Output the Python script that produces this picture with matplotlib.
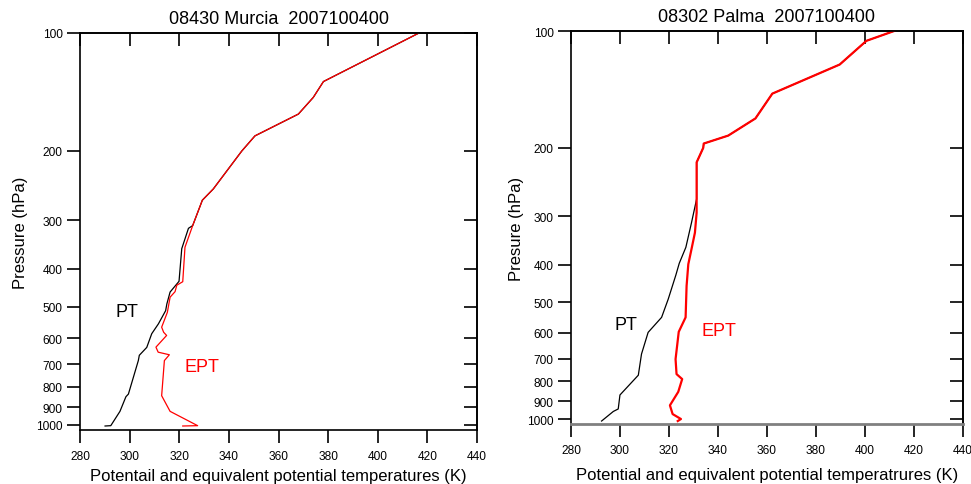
import numpy as np
import matplotlib
matplotlib.use('Agg')
import matplotlib.pyplot as plt

plt.rcParams['font.family'] = ['Liberation Sans', 'DejaVu Sans']

# Murcia 08430 (pressure hPa, temperature K)
murcia_ept_p = [100, 133, 146, 161, 183, 200, 250, 267, 310, 352, 431, 440, 457, 472,
                516, 563, 580, 591, 633, 652, 662, 685, 842, 923, 1004, 1006]
murcia_ept_t = [416.6, 378.1, 374.0, 368.0, 350.5, 345.2, 333.7, 329.3, 325.4, 322.3, 321.4,
                319.0, 318.3, 316.3, 315.2, 312.9, 313.7, 314.9, 310.6, 311.5, 316.0, 314.0,
                312.9, 316.3, 327.4, 321.4]
murcia_pt_p = [100, 133, 146, 161, 183, 200, 250, 267, 310, 315, 355, 430, 458, 491,
               511, 552, 585, 634, 664, 685, 834, 847, 923, 1004, 1006]
murcia_pt_t = [416.6, 378.1, 374.0, 368.0, 350.5, 345.2, 333.7, 329.3, 325.4, 323.7, 321.0,
               319.9, 316.3, 315.0, 314.5, 311.6, 308.9, 306.9, 303.9, 303.5, 299.5, 298.5,
               296.1, 292.4, 290.1]

# Palma 08302
palma_ept_p = [100, 106, 122, 145, 168, 186, 195, 200, 218, 294, 331, 365, 399, 454,
               547, 596, 701, 766, 789, 851, 922, 971, 1000, 1012]
palma_ept_t = [411.9, 400.6, 389.7, 362.2, 355.3, 344.2, 334.2, 334.0, 331.3, 331.3, 330.6,
               329.2, 327.9, 327.2, 326.8, 324.0, 322.7, 323.1, 325.4, 323.8, 320.4, 321.5,
               324.9, 323.6]
palma_pt_p = [100, 106, 122, 145, 168, 186, 195, 200, 218, 271, 312, 361, 397, 426,
              491, 547, 598, 680, 771, 867, 942, 956, 1012]
palma_pt_t = [411.9, 400.6, 389.7, 362.2, 355.3, 344.2, 334.2, 334.0, 331.3, 331.3, 329.2,
              326.9, 324.2, 322.8, 319.7, 317.0, 311.5, 308.8, 307.5, 300.0, 299.3, 297.3,
              292.5]

p_ticks = [100, 200, 300, 400, 500, 600, 700, 800, 900, 1000]
t_ticks = [280, 300, 320, 340, 360, 380, 400, 420, 440]


def setup_axes(ax, title, ylabel, xlabel):
    ax.set_yscale('log')
    ax.set_xlim(280, 440)
    ax.set_ylim(1030, 100)
    ax.set_yticks(p_ticks)
    ax.set_yticklabels([str(p) for p in p_ticks])
    ax.yaxis.set_minor_locator(matplotlib.ticker.NullLocator())
    ax.set_xticks(t_ticks)
    ax.tick_params(axis='both', direction='out', length=9.5, width=1.2, labelsize=8.6, pad=3)
    ax.tick_params(axis='x', pad=5)

    top = ax.secondary_xaxis('top')
    top.set_xticks(t_ticks)
    top.tick_params(direction='in', length=9.5, width=1.2, labeltop=False)
    right = ax.secondary_yaxis('right')
    right.set_yticks(p_ticks)
    right.yaxis.set_minor_locator(matplotlib.ticker.NullLocator())
    right.tick_params(direction='in', length=9.5, width=1.2, labelright=False)
    for sp in list(ax.spines.values()) + [top.spines['top'], right.spines['right']]:
        sp.set_linewidth(1.2)

    ax.set_title(title, fontsize=13, pad=7)
    ax.set_ylabel(ylabel, fontsize=12, labelpad=4)
    ax.set_xlabel(xlabel, fontsize=12, labelpad=2)


fig = plt.figure(figsize=(9.71, 4.85), dpi=100)

ax1 = fig.add_axes([0.0824, 0.1113, 0.4089, 0.8186])
ax1.plot(murcia_pt_t, murcia_pt_p, color='black', linewidth=0.9)
ax1.plot(murcia_ept_t, murcia_ept_p, color='red', linewidth=0.9)
setup_axes(ax1, '08430 Murcia  2007100400', 'Pressure (hPa)',
           'Potentail and equivalent potential temperatures (K)')
ax1.yaxis.labelpad = 6
ax1.xaxis.labelpad = 4
ax1.text(298.8, 514, 'PT', fontsize=13, color='black', ha='center', va='center')
ax1.text(329.0, 709, 'EPT', fontsize=13, color='red', ha='center', va='center')

ax2 = fig.add_axes([0.588, 0.1237, 0.4037, 0.8103])
ax2.plot(palma_pt_t, palma_pt_p, color='black', linewidth=0.9)
ax2.plot(palma_ept_t, palma_ept_p, color='red', linewidth=1.6)
setup_axes(ax2, '08302 Palma  2007100400', 'Presure (hPa)',
           'Potential and equivalent potential temperatrures (K)')
ax2.spines['bottom'].set_color('#808080')
ax2.spines['bottom'].set_linewidth(2)
ax2.xaxis.labelpad = 8
ax2.yaxis.labelpad = 2
ax2.text(302.4, 570, 'PT', fontsize=13, color='black', ha='center', va='center')
ax2.text(340.5, 590, 'EPT', fontsize=13, color='red', ha='center', va='center')

fig.savefig('out.png', dpi=100)
